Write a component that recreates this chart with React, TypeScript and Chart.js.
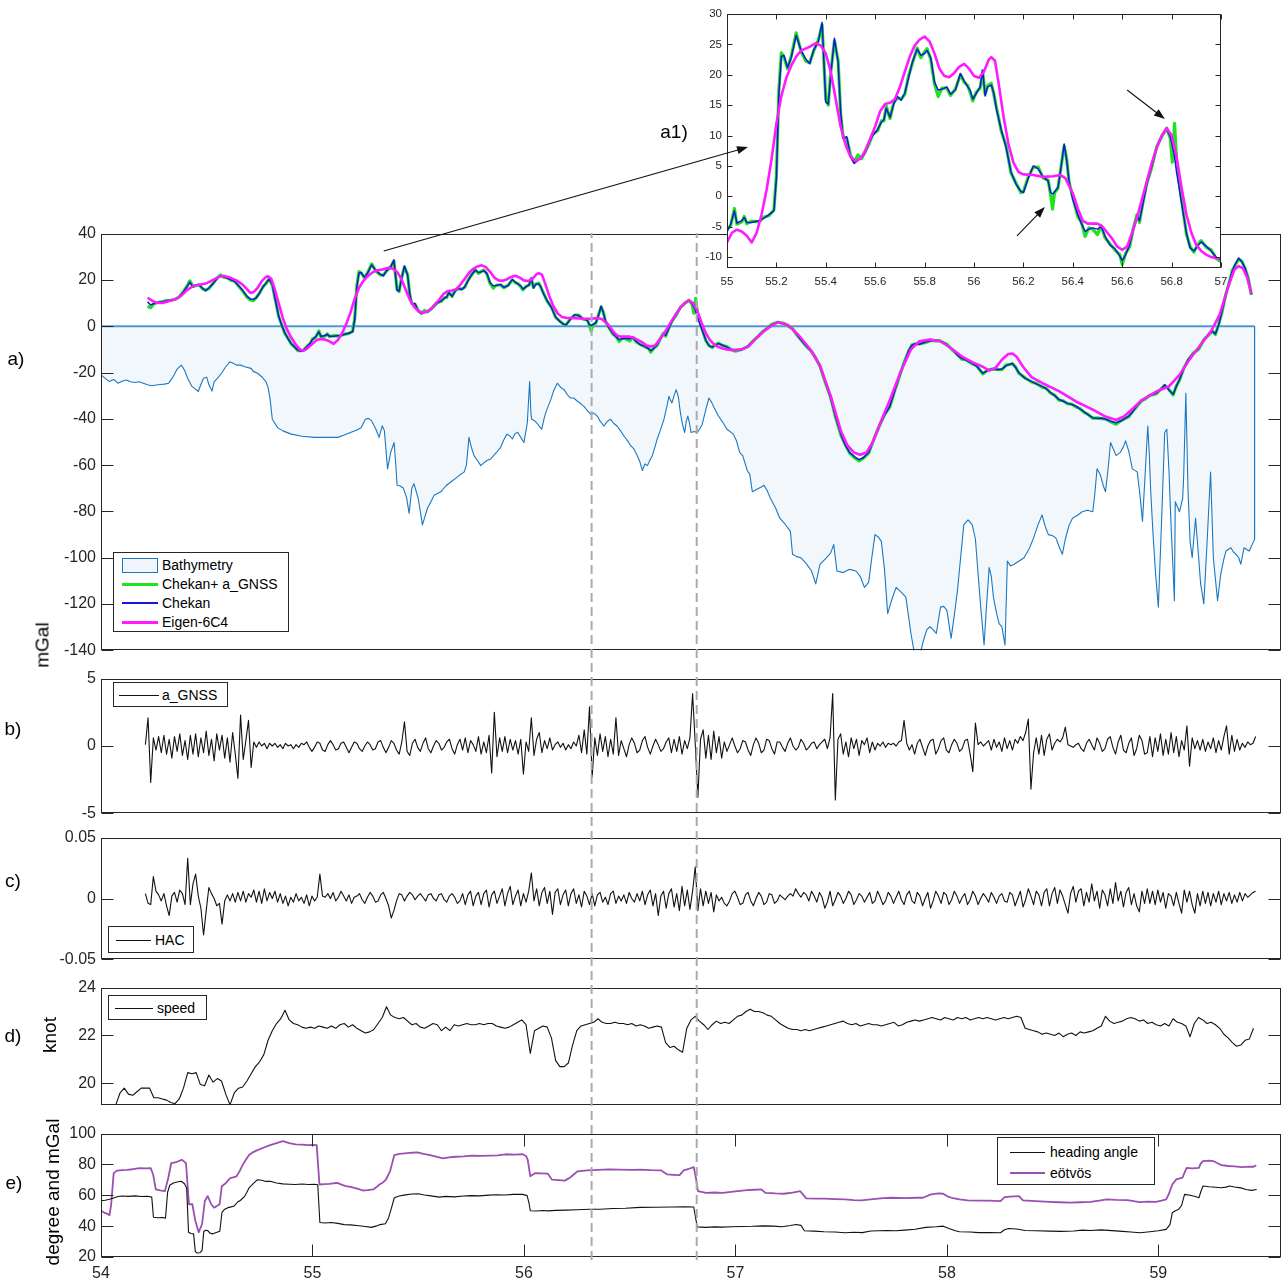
import React, { useEffect, useRef } from 'react';
import { Chart, registerables } from 'chart.js';

Chart.register(...registerables);

const FONT = '"Liberation Sans", Arial, Helvetica, sans-serif';
const INK = '#262626';

// ---------- page layout (pixels) ----------
const PAGE_W = 1282;
const PAGE_H = 1281;
const PLOT_LEFT = 101;
const PLOT_RIGHT = 1281;
const PAD = 12;
const X_AXIS_H = 26;
const PANEL_A = { top: 231, bottom: 653 };
const PANEL_B = { top: 676, bottom: 816 };
const PANEL_C = { top: 835, bottom: 962 };
const PANEL_D = { top: 985, bottom: 1108 };
const PANEL_E = { top: 1131, bottom: 1257 };
const INSET_CANVAS = { left: 680, top: 0, width: 602, height: 300 };
const INSET_PLOT = { left: 727, right: 1221, top: 14, bottom: 268 };
const MARKER_SPAN = { top: 233, bottom: 1260 };

// ---------- axes ----------
const X_MIN = 54;
const X_MAX = 59.58;
const X_TICKS = [54, 55, 56, 57, 58, 59];
const GRAVITY_TICKS = [40, 20, 0, -20, -40, -60, -80, -100, -120, -140];
const GNSS_TICKS = [5, 0, -5];
const HAC_TICKS = [0.05, 0, -0.05];
const SPEED_TICKS = [24, 22, 20];
const HEADING_TICKS = [100, 80, 60, 40, 20];
const INSET_X_TICKS = [55, 55.2, 55.4, 55.6, 55.8, 56, 56.2, 56.4, 56.6, 56.8, 57];
const INSET_Y_TICKS = [30, 25, 20, 15, 10, 5, 0, -5, -10];

// ---------- a) gravity anomaly along the track (mGal) ----------
const chekan: [number, number][] = [
  [54.22, 10.5], [54.235, 9.2], [54.25, 9.8], [54.27, 10.2], [54.29, 10.6], [54.31, 11.0], [54.33, 11.3], [54.35, 11.5],
  [54.37, 12.8], [54.39, 14.8], [54.41, 17.5], [54.42, 19.0], [54.435, 17.0], [54.45, 17.8], [54.465, 17.6], [54.48, 16.4],
  [54.495, 15.3], [54.51, 16.5], [54.53, 18.4], [54.55, 20.6], [54.565, 21.8], [54.58, 21.4], [54.6, 20.6], [54.615, 20.0],
  [54.63, 19.4], [54.65, 17.6], [54.67, 15.5], [54.69, 13.0], [54.705, 11.8], [54.72, 11.6], [54.735, 12.3], [54.75, 14.5],
  [54.765, 16.8], [54.78, 18.6], [54.795, 20.3], [54.81, 18.0], [54.825, 11.0], [54.84, 4.5], [54.855, 0.2], [54.87, -3.0],
  [54.885, -5.5], [54.9, -7.5], [54.915, -9.0], [54.93, -10.2], [54.945, -10.8], [54.96, -10.0], [54.975, -8.8], [54.99, -7.2],
  [55.0, -5.8], [55.015, -4.6], [55.03, -2.4], [55.04, -4.4], [55.06, -4.0], [55.07, -3.5], [55.08, -4.3], [55.1, -4.3],
  [55.13, -4.0], [55.15, -3.6], [55.17, -3.0], [55.19, -2.4], [55.2, 3.0], [55.21, 17.0], [55.22, 23.0], [55.23, 23.2],
  [55.245, 21.2], [55.26, 22.8], [55.28, 26.5], [55.3, 24.0], [55.32, 22.5], [55.335, 21.8], [55.35, 24.0], [55.37, 25.5],
  [55.385, 28.6], [55.4, 15.5], [55.41, 15.2], [55.42, 20.0], [55.435, 26.0], [55.45, 22.0], [55.46, 14.0], [55.47, 9.5],
  [55.485, 9.8], [55.5, 6.5], [55.515, 5.4], [55.53, 5.9], [55.545, 6.4], [55.56, 7.2], [55.575, 8.8], [55.59, 10.0],
  [55.61, 11.0], [55.625, 12.2], [55.635, 12.6], [55.645, 14.5], [55.66, 13.0], [55.675, 15.2], [55.69, 16.4], [55.705, 15.8],
  [55.72, 17.0], [55.735, 19.5], [55.75, 22.0], [55.77, 24.2], [55.785, 23.2], [55.8, 23.5], [55.81, 24.0], [55.825, 22.8],
  [55.84, 18.8], [55.855, 17.5], [55.87, 17.6], [55.89, 18.0], [55.905, 16.8], [55.925, 17.5], [55.945, 20.2], [55.96, 19.0],
  [55.975, 18.0], [55.985, 17.4], [55.995, 16.0], [56.01, 17.0], [56.025, 18.0], [56.035, 20.8], [56.045, 16.5], [56.055, 18.0],
  [56.07, 18.3], [56.08, 17.0], [56.09, 14.5], [56.11, 11.0], [56.13, 8.0], [56.15, 4.0], [56.17, 2.0], [56.19, 0.8],
  [56.2, 0.6], [56.22, 3.0], [56.24, 5.0], [56.26, 4.5], [56.28, 3.2], [56.3, 2.5], [56.31, 0.6], [56.32, 0.4],
  [56.34, 1.5], [56.35, 4.0], [56.365, 8.6], [56.375, 6.0], [56.385, 2.5], [56.4, -0.5], [56.42, -3.0], [56.435, -4.5],
  [56.45, -5.8], [56.465, -5.4], [56.48, -5.2], [56.5, -5.4], [56.515, -5.0], [56.53, -6.5], [56.55, -8.0], [56.57, -8.6],
  [56.59, -9.8], [56.6, -10.6], [56.615, -9.5], [56.63, -8.0], [56.645, -5.5], [56.66, -3.2], [56.67, -4.0], [56.685, -1.0],
  [56.7, 2.0], [56.72, 5.0], [56.74, 8.0], [56.76, 10.0], [56.78, 11.0], [56.795, 9.8], [56.81, 7.0], [56.82, 4.0],
  [56.84, -1.0], [56.86, -6.0], [56.875, -8.5], [56.89, -9.0], [56.905, -8.2], [56.92, -7.5], [56.94, -8.2], [56.96, -9.0],
  [56.98, -10.0], [57.0, -10.5], [57.03, -10.2], [57.06, -8.5], [57.09, -6.0], [57.11, -4.0], [57.13, -2.4], [57.15, -0.8],
  [57.17, 0.5], [57.2, 1.9], [57.23, 1.0], [57.25, 0.2], [57.27, -1.2], [57.29, -3.5], [57.31, -6.0], [57.335, -8.5],
  [57.36, -11.0], [57.38, -13.5], [57.4, -17.5], [57.425, -24.0], [57.45, -31.0], [57.475, -39.5], [57.5, -47.0], [57.52, -51.5],
  [57.54, -54.5], [57.565, -56.5], [57.585, -57.6], [57.605, -56.8], [57.63, -54.5], [57.655, -49.0], [57.68, -43.0], [57.705, -38.5],
  [57.73, -34.6], [57.75, -29.0], [57.77, -23.0], [57.795, -16.5], [57.82, -10.3], [57.835, -8.2], [57.85, -7.5], [57.87, -7.8],
  [57.9, -6.8], [57.925, -6.3], [57.95, -6.1], [57.965, -6.4], [57.98, -6.8], [58.0, -8.0], [58.03, -10.3], [58.05, -12.5],
  [58.07, -13.9], [58.09, -14.6], [58.12, -16.0], [58.14, -17.2], [58.17, -20.3], [58.195, -19.0], [58.22, -18.2], [58.24, -18.8],
  [58.26, -18.5], [58.28, -17.0], [58.31, -16.0], [58.325, -17.8], [58.34, -20.0], [58.37, -22.5], [58.4, -23.8], [58.425, -25.0],
  [58.45, -26.0], [58.47, -27.0], [58.49, -28.6], [58.51, -30.0], [58.53, -31.6], [58.55, -32.4], [58.57, -33.2], [58.59, -33.8],
  [58.61, -34.5], [58.63, -35.8], [58.65, -37.0], [58.67, -38.4], [58.69, -39.5], [58.71, -39.8], [58.73, -39.6], [58.75, -40.2],
  [58.775, -41.0], [58.8, -41.7], [58.83, -40.6], [58.86, -38.8], [58.88, -36.8], [58.9, -34.2], [58.92, -32.4], [58.94, -31.0],
  [58.96, -30.0], [58.99, -28.9], [59.01, -27.5], [59.03, -25.3], [59.05, -27.5], [59.07, -29.4], [59.085, -26.0], [59.1, -23.0],
  [59.12, -18.5], [59.14, -14.5], [59.165, -11.8], [59.19, -9.7], [59.215, -6.0], [59.24, -3.3], [59.255, -2.2], [59.27, -3.3],
  [59.285, 0.5], [59.3, 6.0], [59.32, 13.8], [59.335, 19.0], [59.35, 23.9], [59.365, 27.0], [59.38, 29.4], [59.395, 27.8],
  [59.41, 25.2], [59.425, 20.5], [59.44, 13.8],
];

const chekanGnss: [number, number][] = [
  [54.22, 8.6], [54.235, 8.0], [54.25, 9.6], [54.27, 10.3], [54.29, 10.5], [54.31, 11.1], [54.33, 11.2], [54.35, 11.6],
  [54.37, 12.6], [54.39, 15.0], [54.41, 17.8], [54.42, 19.6], [54.435, 17.2], [54.45, 17.6], [54.465, 17.9], [54.48, 16.2],
  [54.495, 15.6], [54.51, 16.3], [54.53, 18.6], [54.55, 20.9], [54.565, 22.2], [54.58, 21.2], [54.6, 20.8], [54.615, 19.8],
  [54.63, 19.6], [54.65, 17.4], [54.67, 15.2], [54.69, 12.6], [54.705, 11.4], [54.72, 11.0], [54.735, 12.5], [54.75, 14.3],
  [54.765, 17.0], [54.78, 18.4], [54.795, 20.6], [54.81, 17.8], [54.825, 11.3], [54.84, 4.2], [54.855, 0.5], [54.87, -3.2],
  [54.885, -5.3], [54.9, -7.8], [54.915, -8.8], [54.93, -10.5], [54.945, -10.6], [54.96, -10.3], [54.975, -8.6], [54.99, -7.4],
  [55.0, -5.5], [55.015, -4.8], [55.03, -2.0], [55.04, -4.6], [55.06, -4.2], [55.07, -3.3], [55.08, -4.5], [55.1, -4.1],
  [55.13, -4.2], [55.15, -3.4], [55.17, -3.2], [55.19, -2.2], [55.2, 3.4], [55.21, 17.5], [55.22, 23.6], [55.23, 23.0],
  [55.245, 21.0], [55.26, 23.0], [55.28, 26.9], [55.3, 23.8], [55.32, 22.2], [55.335, 22.0], [55.35, 23.8], [55.37, 25.7],
  [55.385, 28.2], [55.4, 15.9], [55.41, 15.0], [55.42, 20.4], [55.435, 25.6], [55.45, 22.3], [55.46, 13.6], [55.47, 9.8],
  [55.485, 9.5], [55.5, 6.8], [55.515, 5.6], [55.53, 6.8], [55.545, 6.2], [55.56, 7.4], [55.575, 8.6], [55.59, 10.2],
  [55.61, 10.8], [55.625, 12.4], [55.635, 12.4], [55.645, 14.8], [55.66, 12.8], [55.675, 15.4], [55.69, 16.2], [55.705, 16.0],
  [55.72, 16.8], [55.735, 19.8], [55.75, 21.8], [55.77, 24.4], [55.785, 22.8], [55.8, 23.8], [55.81, 24.3], [55.825, 22.5],
  [55.84, 18.5], [55.855, 16.4], [55.87, 17.8], [55.89, 17.8], [55.905, 16.6], [55.925, 17.7], [55.945, 20.0], [55.96, 18.8],
  [55.975, 18.2], [55.985, 17.0], [55.995, 15.7], [56.01, 17.2], [56.025, 17.8], [56.035, 20.5], [56.045, 16.8], [56.055, 18.2],
  [56.07, 18.6], [56.08, 16.8], [56.09, 14.8], [56.11, 10.8], [56.13, 8.3], [56.15, 3.8], [56.17, 2.2], [56.19, 0.6],
  [56.2, 0.8], [56.22, 3.2], [56.24, 4.8], [56.26, 4.8], [56.28, 3.0], [56.3, 2.7], [56.31, 0.3], [56.318, -2.1],
  [56.326, 0.6], [56.34, 1.3], [56.35, 4.2], [56.365, 8.3], [56.375, 6.2], [56.385, 2.3], [56.4, -0.2], [56.42, -3.3],
  [56.435, -4.3], [56.45, -6.6], [56.465, -5.2], [56.48, -5.4], [56.5, -6.3], [56.515, -4.8], [56.53, -6.8], [56.55, -7.8],
  [56.57, -8.8], [56.59, -9.6], [56.6, -11.2], [56.615, -9.3], [56.63, -8.3], [56.645, -5.3], [56.66, -3.0], [56.67, -4.3],
  [56.685, -0.8], [56.7, 2.2], [56.72, 4.8], [56.74, 8.2], [56.76, 9.8], [56.78, 11.2], [56.795, 9.5], [56.803, 5.6],
  [56.812, 12.0], [56.82, 6.0], [56.84, -0.5], [56.86, -6.2], [56.875, -8.3], [56.89, -9.2], [56.905, -8.0], [56.92, -7.3],
  [56.94, -8.4], [56.96, -8.8], [56.98, -10.2], [57.0, -10.8], [57.03, -10.0], [57.06, -8.7], [57.09, -5.8], [57.11, -4.2],
  [57.13, -2.2], [57.15, -1.0], [57.17, 0.7], [57.2, 1.7], [57.23, 1.2], [57.25, 0.0], [57.27, -1.0], [57.29, -3.7],
  [57.31, -5.8], [57.335, -8.7], [57.36, -10.8], [57.38, -13.8], [57.4, -17.2], [57.425, -24.3], [57.45, -30.6], [57.475, -39.8],
  [57.5, -47.3], [57.52, -51.2], [57.54, -54.8], [57.565, -56.9], [57.585, -58.2], [57.605, -57.0], [57.63, -54.8], [57.655, -48.7],
  [57.68, -43.3], [57.705, -38.2], [57.73, -34.9], [57.75, -28.7], [57.77, -23.3], [57.795, -16.2], [57.82, -10.6], [57.835, -8.0],
  [57.85, -7.7], [57.87, -7.6], [57.9, -7.0], [57.925, -6.1], [57.95, -6.3], [57.965, -6.2], [57.98, -7.0], [58.0, -7.8],
  [58.03, -10.6], [58.05, -12.3], [58.07, -14.2], [58.09, -14.4], [58.12, -16.3], [58.14, -17.0], [58.17, -20.6], [58.195, -18.8],
  [58.22, -18.5], [58.24, -18.6], [58.26, -18.8], [58.28, -16.8], [58.31, -16.3], [58.325, -17.6], [58.34, -20.3], [58.37, -22.3],
  [58.4, -24.1], [58.425, -24.8], [58.45, -26.3], [58.47, -26.8], [58.49, -28.9], [58.51, -29.8], [58.53, -31.9], [58.55, -32.2],
  [58.57, -33.5], [58.59, -33.6], [58.61, -34.8], [58.63, -35.6], [58.65, -37.3], [58.67, -38.2], [58.69, -39.8], [58.71, -39.6],
  [58.73, -39.9], [58.75, -40.0], [58.775, -41.3], [58.8, -42.3], [58.83, -40.4], [58.86, -39.1], [58.88, -36.6], [58.9, -34.5],
  [58.92, -32.2], [58.94, -31.3], [58.96, -29.8], [58.99, -29.2], [59.01, -27.3], [59.03, -25.6], [59.05, -27.3], [59.07, -29.7],
  [59.085, -25.8], [59.1, -23.3], [59.12, -18.2], [59.14, -14.8], [59.165, -11.6], [59.19, -10.0], [59.215, -5.8], [59.24, -3.6],
  [59.255, -2.0], [59.27, -3.6], [59.285, 0.8], [59.3, 5.7], [59.32, 14.1], [59.335, 18.7], [59.35, 24.2], [59.365, 26.7],
  [59.38, 29.0], [59.395, 28.0], [59.41, 24.9], [59.425, 20.8], [59.44, 13.5],
];

const eigen6c4: [number, number][] = [
  [54.22, 12.3], [54.24, 11.2], [54.26, 10.2], [54.29, 10.0], [54.32, 10.8], [54.35, 11.6], [54.38, 13.2], [54.41, 15.8],
  [54.44, 17.6], [54.47, 18.0], [54.5, 18.6], [54.53, 20.0], [54.56, 21.4], [54.58, 21.7], [54.61, 21.0], [54.64, 19.8],
  [54.67, 18.0], [54.69, 16.0], [54.705, 14.5], [54.72, 14.6], [54.74, 16.5], [54.76, 19.5], [54.78, 21.3], [54.79, 21.6],
  [54.805, 20.5], [54.82, 16.5], [54.84, 10.0], [54.86, 3.5], [54.88, -1.5], [54.9, -5.0], [54.92, -7.8], [54.94, -10.0],
  [54.955, -10.6], [54.97, -10.0], [54.985, -8.8], [55.0, -7.6], [55.02, -6.0], [55.04, -5.5], [55.06, -5.8], [55.08, -6.5],
  [55.1, -7.6], [55.12, -6.0], [55.14, -3.0], [55.16, 1.0], [55.18, 6.0], [55.2, 12.0], [55.22, 16.5], [55.24, 19.5],
  [55.26, 21.5], [55.28, 23.0], [55.3, 24.0], [55.33, 24.5], [55.36, 25.2], [55.38, 24.8], [55.4, 23.5], [55.42, 20.5],
  [55.44, 16.0], [55.46, 11.5], [55.48, 8.5], [55.5, 6.5], [55.52, 5.8], [55.54, 6.2], [55.56, 7.5], [55.58, 9.5],
  [55.6, 11.5], [55.62, 14.0], [55.64, 15.2], [55.66, 15.4], [55.68, 16.0], [55.7, 18.0], [55.72, 20.5], [55.74, 23.0],
  [55.76, 24.8], [55.78, 25.8], [55.8, 26.3], [55.82, 25.5], [55.84, 23.5], [55.86, 21.0], [55.88, 19.8], [55.9, 19.6],
  [55.92, 20.3], [55.94, 21.3], [55.96, 21.8], [55.98, 21.0], [56.0, 19.8], [56.02, 19.5], [56.04, 20.5], [56.06, 22.5],
  [56.07, 22.9], [56.085, 22.3], [56.1, 18.5], [56.12, 13.0], [56.14, 8.5], [56.16, 5.5], [56.18, 4.0], [56.2, 3.6],
  [56.24, 3.5], [56.28, 3.2], [56.32, 3.3], [56.35, 3.5], [56.37, 3.0], [56.4, 0.5], [56.42, -2.0], [56.44, -4.0],
  [56.46, -4.5], [56.5, -4.5], [56.52, -5.0], [56.54, -6.0], [56.56, -7.0], [56.58, -8.3], [56.6, -8.8], [56.62, -8.3],
  [56.64, -6.0], [56.66, -3.5], [56.68, -0.5], [56.7, 2.5], [56.72, 5.5], [56.74, 8.0], [56.76, 10.0], [56.78, 11.2],
  [56.8, 10.0], [56.82, 6.5], [56.84, 1.5], [56.86, -3.0], [56.88, -6.0], [56.9, -8.0], [56.92, -9.0], [56.94, -9.6],
  [56.96, -10.0], [56.98, -10.2], [57.0, -10.2], [57.03, -10.0], [57.06, -8.8], [57.1, -5.0], [57.15, -1.0], [57.2, 1.7],
  [57.25, 0.5], [57.3, -4.0], [57.35, -9.5], [57.4, -17.0], [57.45, -30.0], [57.5, -45.5], [57.53, -51.5], [57.56, -54.5],
  [57.59, -55.5], [57.62, -54.5], [57.65, -50.0], [57.68, -43.0], [57.73, -32.0], [57.78, -20.0], [57.83, -10.0], [57.87, -6.5],
  [57.92, -5.8], [57.97, -6.5], [58.02, -9.5], [58.07, -13.0], [58.12, -15.5], [58.17, -17.5], [58.2, -19.2], [58.23, -18.0],
  [58.26, -14.5], [58.29, -12.0], [58.31, -11.8], [58.33, -13.2], [58.36, -17.5], [58.4, -22.0], [58.45, -24.5], [58.53, -28.0],
  [58.61, -32.5], [58.69, -36.0], [58.75, -39.0], [58.8, -40.5], [58.84, -38.8], [58.88, -35.5], [58.92, -32.0], [58.99, -28.2],
  [59.05, -26.0], [59.1, -21.0], [59.15, -14.0], [59.2, -8.0], [59.25, -2.0], [59.29, 5.0], [59.33, 17.0], [59.36, 24.5],
  [59.38, 26.0], [59.4, 25.0], [59.42, 21.0], [59.44, 14.0],
];

const bathymetry: [number, number][] = [
  [54.0, -21.0], [54.02, -22.5], [54.04, -23.9], [54.06, -23.0], [54.08, -24.6], [54.1, -23.8], [54.12, -23.2], [54.14, -24.0],
  [54.16, -24.3], [54.18, -24.0], [54.2, -24.6], [54.22, -25.3], [54.24, -25.7], [54.26, -25.4], [54.28, -25.2], [54.3, -25.0],
  [54.32, -24.6], [54.34, -22.0], [54.36, -18.5], [54.38, -16.8], [54.395, -19.0], [54.41, -22.5], [54.43, -26.0], [54.46, -28.2],
  [54.475, -24.5], [54.485, -22.5], [54.5, -22.0], [54.51, -25.2], [54.525, -28.0], [54.535, -24.0], [54.55, -22.5], [54.57, -20.3],
  [54.59, -17.5], [54.61, -15.4], [54.625, -16.0], [54.64, -16.8], [54.66, -16.8], [54.68, -17.5], [54.7, -18.0], [54.71, -18.2],
  [54.72, -19.5], [54.74, -20.3], [54.76, -21.8], [54.78, -24.0], [54.79, -26.5], [54.8, -31.7], [54.81, -40.2], [54.835, -43.8],
  [54.86, -45.2], [54.9, -46.6], [54.95, -47.5], [55.01, -48.0], [55.06, -48.0], [55.12, -48.0], [55.15, -47.0], [55.18, -45.9],
  [55.21, -44.8], [55.23, -43.8], [55.25, -40.2], [55.265, -39.8], [55.28, -40.9], [55.3, -44.5], [55.315, -48.0], [55.33, -43.0],
  [55.34, -45.1], [55.355, -61.6], [55.37, -54.5], [55.386, -50.2], [55.394, -59.8], [55.4, -68.7], [55.415, -69.0], [55.43, -70.0],
  [55.445, -74.0], [55.457, -80.8], [55.47, -70.0], [55.48, -68.0], [55.5, -74.4], [55.52, -85.8], [55.544, -78.6], [55.56, -75.8],
  [55.575, -73.0], [55.607, -71.5], [55.63, -69.0], [55.654, -67.3], [55.68, -65.5], [55.7, -64.0], [55.717, -63.0], [55.728, -60.0],
  [55.74, -48.0], [55.752, -52.5], [55.764, -55.9], [55.78, -58.0], [55.796, -60.2], [55.81, -59.0], [55.825, -58.0], [55.843, -57.3],
  [55.86, -55.5], [55.875, -54.0], [55.89, -52.3], [55.905, -49.0], [55.92, -46.6], [55.935, -47.5], [55.945, -48.7], [55.957, -46.5],
  [55.97, -45.8], [55.985, -48.0], [56.0, -50.2], [56.01, -45.0], [56.016, -41.7], [56.027, -23.9], [56.033, -38.0], [56.037, -40.2],
  [56.05, -40.8], [56.06, -41.7], [56.075, -43.5], [56.084, -44.5], [56.095, -40.0], [56.103, -37.4], [56.115, -34.5], [56.127, -31.7],
  [56.14, -28.0], [56.158, -24.6], [56.175, -26.5], [56.19, -27.4], [56.205, -29.5], [56.22, -31.0], [56.235, -31.0], [56.253, -32.4],
  [56.27, -33.5], [56.284, -34.6], [56.3, -36.5], [56.316, -38.1], [56.33, -37.5], [56.347, -38.8], [56.36, -41.0], [56.378, -43.1],
  [56.395, -41.0], [56.41, -40.2], [56.425, -42.0], [56.44, -43.1], [56.455, -45.0], [56.473, -47.4], [56.49, -49.5], [56.505, -51.6],
  [56.52, -53.0], [56.536, -55.9], [56.548, -58.5], [56.56, -62.3], [56.572, -59.5], [56.584, -60.2], [56.595, -58.0], [56.607, -55.9],
  [56.62, -52.0], [56.63, -48.8], [56.645, -45.0], [56.662, -40.2], [56.675, -35.0], [56.686, -30.3], [56.693, -32.0], [56.7, -33.1],
  [56.71, -30.0], [56.72, -27.4], [56.73, -30.5], [56.74, -37.4], [56.75, -42.5], [56.76, -45.9], [56.768, -41.0], [56.775, -38.8],
  [56.783, -42.0], [56.79, -45.9], [56.805, -45.5], [56.82, -45.9], [56.83, -44.5], [56.843, -42.4], [56.86, -36.0], [56.875, -31.0],
  [56.888, -33.0], [56.9, -35.3], [56.92, -38.8], [56.94, -41.5], [56.96, -44.5], [56.99, -46.6], [57.005, -49.5], [57.02, -54.5],
  [57.035, -56.0], [57.056, -62.3], [57.068, -64.0], [57.08, -71.5], [57.1, -70.5], [57.12, -69.5], [57.135, -68.7], [57.15, -71.0],
  [57.166, -74.4], [57.19, -78.5], [57.21, -82.9], [57.235, -85.5], [57.26, -88.6], [57.27, -98.5], [57.29, -99.5], [57.31, -100.0],
  [57.335, -102.5], [57.36, -105.7], [57.38, -111.3], [57.4, -102.8], [57.43, -100.0], [57.45, -98.0], [57.465, -94.3], [57.48, -105.7],
  [57.51, -106.4], [57.54, -105.0], [57.57, -105.7], [57.59, -108.0], [57.61, -112.8], [57.63, -110.6], [57.645, -100.0], [57.66, -90.0],
  [57.675, -91.0], [57.69, -92.9], [57.705, -105.0], [57.72, -124.1], [57.74, -118.0], [57.76, -112.8], [57.78, -114.5], [57.806, -117.0],
  [57.83, -132.7], [57.845, -140.5], [57.86, -144.0], [57.875, -141.0], [57.89, -135.5], [57.905, -131.0], [57.92, -129.8], [57.935, -131.0],
  [57.95, -132.7], [57.97, -121.3], [57.985, -121.0], [58.0, -122.7], [58.02, -134.8], [58.035, -125.0], [58.05, -114.2], [58.065, -100.0],
  [58.08, -85.8], [58.1, -83.6], [58.12, -85.8], [58.135, -92.0], [58.144, -102.8], [58.16, -121.3], [58.176, -137.7], [58.188, -120.0],
  [58.2, -104.2], [58.21, -108.0], [58.22, -117.0], [58.235, -124.0], [58.247, -128.4], [58.26, -129.8], [58.275, -137.7], [58.286, -101.4],
  [58.3, -103.5], [58.318, -102.8], [58.34, -101.5], [58.365, -100.0], [58.39, -96.0], [58.41, -91.4], [58.43, -86.0], [58.45, -81.5],
  [58.465, -86.5], [58.48, -90.0], [58.5, -90.5], [58.515, -91.4], [58.53, -95.0], [58.546, -98.5], [58.56, -92.0], [58.578, -86.0],
  [58.594, -82.9], [58.62, -81.5], [58.64, -80.1], [58.665, -79.5], [58.69, -80.1], [58.7, -72.0], [58.71, -61.6], [58.725, -64.0],
  [58.74, -69.0], [58.75, -71.5], [58.762, -62.0], [58.774, -50.2], [58.787, -53.0], [58.8, -55.9], [58.82, -54.5], [58.835, -52.0],
  [58.845, -49.5], [58.86, -54.0], [58.877, -61.6], [58.9, -62.9], [58.912, -72.0], [58.925, -84.3], [58.94, -60.0], [58.95, -43.1],
  [58.957, -55.0], [58.964, -71.5], [58.975, -90.0], [58.987, -107.1], [59.0, -121.3], [59.015, -85.0], [59.03, -45.9], [59.04, -44.5],
  [59.05, -62.0], [59.06, -85.8], [59.068, -102.0], [59.076, -118.5], [59.08, -75.8], [59.09, -78.0], [59.1, -80.1], [59.108, -77.0],
  [59.115, -74.4], [59.12, -64.4], [59.13, -28.9], [59.14, -70.0], [59.15, -92.9], [59.16, -100.0], [59.176, -82.9], [59.188, -97.0],
  [59.2, -111.3], [59.215, -119.9], [59.23, -94.3], [59.247, -63.0], [59.26, -100.0], [59.28, -118.5], [59.295, -107.1], [59.31, -100.5],
  [59.32, -97.1], [59.343, -95.7], [59.355, -97.5], [59.367, -98.5], [59.38, -100.0], [59.39, -102.8], [59.405, -95.7], [59.42, -96.5],
  [59.43, -97.1], [59.445, -94.0], [59.455, -92.1],
];

// ---------- b) GNSS vertical acceleration, sampled every 0.0125 ----------
const A_GNSS_START = 54.21;
const A_GNSS_STEP = 0.0125;
const aGnss: number[] = [
  0.1, 2.1, -2.7, 0.6, -0.3, 0.7, -0.5, 0.8, -0.6, 0.5, -0.9, 0.7, -0.4, 0.9, -0.7, 0.4, -1.0, 0.8, -0.6, 0.9,
  -0.8, 0.6, -0.5, 1.1, -0.7, 0.5, -1.1, 0.9, -0.3, 0.8, -0.9, 0.6, -1.2, 1.0, -0.6, -2.4, 2.3, -1.0, 0.4, 1.9,
  -1.6, 0.3, -0.1, 0.3, 0.0, 0.2, -0.2, 0.2, 0.0, 0.2, -0.1, 0.1, -0.2, 0.2, 0.0, 0.1, -0.2, 0.1, -0.1, 0.2,
  0.1, 0.3, -0.1, -0.4, -0.1, 0.3, 0.2, -0.3, -0.4, 0.1, 0.4, 0.1, -0.3, -0.2, 0.2, 0.3, -0.1, -0.5, -0.1, 0.3,
  0.2, -0.2, -0.4, 0.0, 0.3, 0.1, -0.3, -0.2, 0.3, 0.4, -0.1, -0.5, -0.1, 0.4, 0.2, -0.3, -0.6, 0.3, 1.8, -0.4,
  -0.7, 0.2, 0.5, -0.1, -0.4, 0.2, 0.6, -0.2, -0.5, 0.0, 0.4, 0.2, -0.3, -0.1, 0.3, 0.5, -0.2, -0.6, 0.1, 0.5,
  -0.3, 0.6, -0.5, 0.4, 0.1, -0.4, 0.7, -0.6, 0.3, -0.5, 0.8, -2.0, 2.5, -0.8, 0.6, -0.4, 0.7, -0.5, 0.5, -0.3,
  0.4, -0.6, 0.5, -2.1, 0.3, -0.4, 2.1, -0.7, 0.5, 1.0, -0.5, 0.4, -0.2, 0.6, -0.3, 0.1, 0.3, -0.1, 0.2, -0.3,
  0.1, -0.2, 0.3, 0.0, 0.8, -0.5, 1.2, -0.6, 2.9, -2.3, 0.6, -0.7, 0.9, -0.4, 0.7, -0.8, 0.5, -0.6, 2.1, -0.7,
  0.4, -0.2, -0.8, 0.1, 0.6, 0.2, -0.5, -0.3, 0.4, 0.7, -0.1, -0.6, 0.0, 0.5, 0.1, -0.4, -0.2, 0.3, 0.6, -0.5,
  0.5, -0.4, 0.7, -0.6, 0.4, -0.2, 0.6, 3.9, 0.2, -3.8, 0.5, 1.2, -0.9, 0.8, -1.0, 1.1, -0.5, 0.7, -0.9, 0.3,
  -0.4, 0.1, 0.6, 0.0, -0.5, -0.2, 0.4, 0.3, -0.3, -0.7, 0.1, 0.6, 0.2, -0.5, -0.3, 0.5, 0.4, -0.2, -0.6, 0.3,
  0.3, -0.1, -0.4, 0.2, 0.6, 0.0, -0.3, -0.1, 0.5, 0.2, -0.3, -0.1, 0.2, 0.3, -0.2, 0.1, 0.3, 0.5, -0.2, 0.6,
  3.9, -4.0, 0.5, 0.9, -0.6, 0.3, -0.8, 0.6, -0.2, 0.5, -0.7, 0.4, 0.1, 0.6, -0.5, 0.3, -0.3, 0.2, 0.0, 0.3,
  -0.1, 0.2, 0.1, 0.2, 0.0, 0.3, 0.4, 1.9, 0.2, -0.3, 0.1, -0.6, 0.2, 0.5, -0.1, -0.7, 0.0, 0.4, 0.5, -0.6,
  -0.2, 0.4, 0.6, -0.3, -0.5, 0.1, 0.5, 0.2, -0.4, -0.2, 0.4, 0.5, -0.6, -1.9, 1.7, 0.1, 0.3, 0.0, 0.2, 0.4,
  -0.3, 0.5, -0.1, 0.3, -0.4, 0.6, -0.2, 0.4, -0.3, 0.5, 0.2, 0.7, 0.4, 1.0, 2.0, -3.2, -0.5, 0.6, -0.6, 0.8,
  -0.7, 0.5, 0.9, -0.3, 0.2, 0.5, 0.3, 0.6, 1.4, 0.1, 0.0, -0.1, 0.1, 0.2, -0.2, -0.4, 0.2, 0.5, 0.1, -0.3,
  0.6, 0.2, -0.4, -0.2, 0.5, 0.7, -0.1, -0.6, 0.3, 0.8, -0.3, -0.5, 0.2, 0.6, -0.7, -0.2, 0.8, 0.4, -0.6, -0.5,
  0.7, -0.8, 0.6, -0.4, 0.9, -0.7, 0.5, -0.6, 1.0, -0.5, 0.7, -0.8, 0.4, -0.3, 1.5, -1.5, 0.6, -0.2, 0.4, -0.3,
  0.5, -0.4, 0.3, -0.2, 0.6, -0.5, 0.4, -0.3, 0.7, 1.5, -0.6, 0.8, -0.4, 0.5, -0.3, 0.2, -0.1, 0.3, 0.1, 0.2, 0.7,
];

// ---------- c) horizontal acceleration correction, sampled every 0.0125 ----------
const HAC_START = 54.21;
const HAC_STEP = 0.0125;
const hac: number[] = [
  0.004, -0.004, -0.005, 0.018, 0.006, 0.003, -0.002, 0.004, -0.006, -0.014, 0.002, 0.005, -0.003, 0.007, 0.004, -0.005, 0.033, -0.005, 0.012, 0.02,
  0.002, -0.008, -0.03, -0.01, 0.009, 0.004, 0.0, -0.006, -0.004, -0.021, -0.002, 0.003, -0.002, 0.004, -0.003, 0.005, -0.002, 0.006, -0.003, 0.004,
  0.001, 0.007, -0.003, 0.006, -0.004, 0.008, -0.002, 0.005, 0.0, 0.006, -0.003, 0.004, -0.004, 0.002, -0.006, 0.001, -0.003, 0.004, -0.002, 0.001,
  -0.004, 0.003, -0.006, 0.002, -0.002, 0.001, 0.02, 0.002, 0.001, 0.004, 0.0, 0.005, -0.002, 0.001, 0.006, 0.002, -0.002, 0.003, -0.004, 0.001,
  0.002, 0.004, -0.001, -0.004, 0.001, 0.005, 0.002, -0.003, -0.002, 0.003, 0.005, 0.0, -0.006, -0.016, -0.01, -0.002, 0.004, 0.003, -0.002, 0.002,
  0.005, 0.003, -0.001, 0.002, 0.004, 0.001, -0.002, 0.003, 0.004, 0.0, -0.002, 0.003, 0.004, -0.001, -0.003, 0.002, 0.004, 0.001, -0.004, -0.002,
  0.004, -0.005, 0.003, 0.006, -0.006, 0.002, 0.005, -0.005, 0.004, 0.007, -0.007, 0.003, 0.006, -0.004, 0.002, 0.008, -0.006, 0.004, 0.01, -0.005,
  0.002, 0.007, -0.006, 0.004, -0.003, 0.006, 0.021, -0.002, 0.008, -0.006, 0.005, 0.009, -0.004, 0.006, -0.013, 0.005, 0.008, -0.005, 0.003, 0.007,
  -0.006, 0.004, 0.008, -0.004, 0.003, -0.007, 0.006, 0.002, -0.005, 0.004, -0.006, 0.003, 0.005, -0.003, 0.001, -0.005, 0.004, 0.006, -0.004, 0.002,
  -0.002, 0.003, -0.004, 0.005, 0.0, -0.003, 0.004, -0.002, 0.006, -0.005, 0.003, 0.007, -0.006, 0.004, -0.014, 0.002, 0.006, -0.008, 0.004, 0.008,
  -0.007, 0.004, -0.01, 0.01, -0.006, 0.007, -0.009, 0.006, 0.026, -0.01, 0.008, -0.006, 0.006, -0.004, 0.005, -0.011, 0.003, -0.002, 0.001, -0.004,
  -0.006, -0.002, 0.004, 0.006, 0.001, -0.005, -0.004, 0.003, 0.005, -0.002, -0.006, 0.0, 0.005, 0.002, -0.005, -0.003, 0.004, 0.003, -0.004, -0.002,
  0.003, 0.001, -0.001, 0.002, 0.004, 0.002, 0.008, 0.004, 0.001, 0.005, 0.003, -0.002, 0.006, 0.002, -0.003, 0.005, 0.001, -0.008, -0.003, 0.006,
  -0.006, -0.001, 0.005, 0.002, -0.004, 0.0, 0.006, 0.003, -0.005, -0.001, 0.004, 0.002, -0.003, 0.001, 0.005, -0.004, -0.002, 0.006, 0.001, -0.005,
  -0.002, 0.005, 0.002, -0.004, 0.001, 0.006, -0.001, -0.005, 0.003, 0.006, -0.002, -0.004, 0.005, 0.002, -0.006, 0.0, 0.005, -0.008, -0.002, 0.006,
  0.002, -0.004, 0.005, 0.003, -0.005, -0.001, 0.006, 0.002, -0.004, 0.001, 0.004, -0.005, -0.001, 0.006, 0.002, -0.005, 0.0, 0.004, 0.001, -0.003,
  0.005, 0.001, -0.004, 0.002, 0.004, -0.002, -0.003, 0.005, 0.003, -0.006, 0.0, 0.006, -0.007, -0.001, 0.008, 0.002, -0.005, 0.006, 0.003, -0.006,
  0.005, 0.008, -0.006, 0.004, 0.009, -0.004, 0.007, 0.002, -0.005, -0.012, 0.004, 0.01, -0.003, 0.006, 0.008, -0.006, 0.005, -0.003, 0.012, -0.002,
  0.006, -0.008, 0.007, 0.003, -0.006, 0.008, -0.004, 0.013, -0.002, 0.006, -0.007, 0.005, 0.009, -0.005, 0.004, -0.006, -0.011, 0.006, -0.004, 0.008,
  -0.004, 0.006, -0.005, 0.007, -0.003, 0.005, -0.008, 0.004, 0.002, -0.006, 0.005, -0.004, -0.012, 0.007, -0.003, 0.006, -0.005, -0.012, 0.004, -0.006,
  0.006, -0.004, 0.005, -0.006, 0.004, -0.003, 0.006, -0.005, 0.004, -0.002, 0.005, -0.004, 0.003, -0.003, 0.005, -0.002, 0.004, 0.001, 0.003, 0.005, 0.006,
];

// ---------- d) ship speed (knot), sampled every 0.02 ----------
const SPEED_START = 54.07;
const SPEED_STEP = 0.02;
const speed: number[] = [
  19.1, 19.6, 19.8, 19.55, 19.5, 19.65, 19.8, 19.8, 19.8, 19.4,
  19.4, 19.35, 19.3, 19.2, 19.15, 19.35, 19.8, 20.45, 20.4, 20.45,
  19.95, 19.9, 20.35, 20.05, 20.2, 20.1, 19.55, 19.1, 19.6, 19.8,
  19.85, 20.1, 20.4, 20.7, 20.9, 21.2, 21.8, 22.2, 22.5, 22.7,
  23.05, 22.65, 22.5, 22.45, 22.35, 22.3, 22.35, 22.3, 22.4, 22.35,
  22.3, 22.4, 22.3, 22.45, 22.5, 22.35, 22.45, 22.3, 22.2, 22.1,
  22.15, 22.25, 22.5, 22.75, 23.2, 22.85, 22.75, 22.7, 22.75, 22.6,
  22.45, 22.5, 22.35, 22.3, 22.4, 22.5, 22.45, 22.2, 22.35, 22.2,
  22.45, 22.4, 22.45, 22.5, 22.45, 22.45, 22.5, 22.45, 22.5, 22.5,
  22.4, 22.35, 22.3, 22.35, 22.45, 22.55, 22.65, 22.45, 21.25, 22.2,
  22.3, 22.4, 22.35, 21.9, 20.95, 20.7, 20.7, 20.85, 21.6, 22.2,
  22.4, 22.45, 22.5, 22.55, 22.7, 22.55, 22.5, 22.5, 22.55, 22.5,
  22.5, 22.45, 22.5, 22.4, 22.45, 22.4, 22.3, 22.35, 22.4, 22.35,
  21.7, 21.5, 21.55, 21.4, 21.3, 22.3, 22.65, 22.8, 22.6, 22.45,
  22.25, 22.45, 22.6, 22.5, 22.55, 22.5, 22.65, 22.8, 22.85, 23.0,
  23.1, 23.0, 23.0, 22.95, 22.85, 22.8, 22.65, 22.5, 22.4, 22.3,
  22.25, 22.25, 22.2, 22.25, 22.2, 22.25, 22.3, 22.35, 22.4, 22.45,
  22.5, 22.55, 22.6, 22.5, 22.45, 22.5, 22.4, 22.45, 22.5, 22.45,
  22.45, 22.4, 22.45, 22.5, 22.55, 22.4, 22.45, 22.55, 22.6, 22.65,
  22.6, 22.65, 22.7, 22.75, 22.7, 22.65, 22.75, 22.7, 22.65, 22.75,
  22.7, 22.75, 22.65, 22.7, 22.75, 22.7, 22.75, 22.7, 22.65, 22.7,
  22.75, 22.7, 22.75, 22.8, 22.75, 22.3, 22.25, 22.2, 22.15, 22.05,
  22.1, 22.05, 22.0, 22.1, 21.95, 22.05, 22.1, 22.0, 22.15, 22.1,
  22.15, 22.2, 22.3, 22.4, 22.8, 22.6, 22.5, 22.55, 22.6, 22.7,
  22.75, 22.7, 22.6, 22.65, 22.5, 22.55, 22.45, 22.4, 22.5, 22.4,
  22.7, 22.55, 22.5, 22.4, 21.95, 22.5, 22.75, 22.65, 22.5, 22.55,
  22.45, 22.3, 22.05, 21.9, 21.7, 21.55, 21.6, 21.8, 21.85, 22.3,
];

// ---------- e) heading angle (degree) and Eötvös correction (mGal) ----------
const heading: [number, number][] = [
  [54.0, 56.5], [54.02, 56.8], [54.04, 57.4], [54.06, 58.3], [54.08, 59.2], [54.1, 59.5], [54.13, 59.3], [54.16, 59.6],
  [54.19, 59.2], [54.22, 59.4], [54.24, 58.8], [54.248, 45.8], [54.27, 45.4], [54.29, 45.6], [54.305, 45.2], [54.315, 62.0],
  [54.325, 66.5], [54.342, 68.0], [54.36, 68.6], [54.38, 69.1], [54.395, 67.5], [54.405, 64.8], [54.414, 36.0], [54.425, 35.2],
  [54.438, 35.0], [54.446, 23.5], [54.455, 22.6], [54.468, 22.8], [54.478, 24.3], [54.486, 36.5], [54.495, 37.3], [54.505, 37.1],
  [54.515, 35.5], [54.53, 35.0], [54.548, 36.0], [54.562, 36.7], [54.572, 49.0], [54.585, 51.0], [54.6, 52.0], [54.615, 52.5],
  [54.63, 53.1], [54.645, 55.5], [54.66, 56.8], [54.68, 59.5], [54.69, 62.0], [54.7, 64.8], [54.72, 67.5], [54.74, 70.1],
  [54.76, 69.8], [54.78, 69.0], [54.8, 69.1], [54.83, 68.0], [54.86, 67.4], [54.89, 67.2], [54.92, 67.0], [54.95, 67.3],
  [54.98, 67.0], [55.01, 67.2], [55.025, 66.8], [55.035, 42.4], [55.06, 42.0], [55.09, 42.4], [55.12, 41.8], [55.15, 41.0],
  [55.18, 40.8], [55.22, 40.3], [55.25, 39.8], [55.278, 39.2], [55.3, 40.0], [55.32, 41.0], [55.345, 41.6], [55.36, 45.5],
  [55.372, 51.0], [55.387, 58.4], [55.41, 59.5], [55.44, 60.3], [55.47, 60.8], [55.5, 61.0], [55.53, 60.2], [55.56, 59.6],
  [55.6, 58.8], [55.63, 59.3], [55.67, 59.0], [55.715, 59.5], [55.75, 59.8], [55.79, 59.6], [55.835, 60.1], [55.87, 60.4],
  [55.91, 60.2], [55.95, 60.6], [55.994, 60.6], [56.015, 59.8], [56.024, 55.0], [56.03, 50.0], [56.06, 49.8], [56.09, 50.1],
  [56.113, 49.9], [56.15, 50.2], [56.2, 50.4], [56.25, 50.6], [56.312, 51.0], [56.36, 51.0], [56.42, 51.4], [56.48, 51.6],
  [56.55, 52.2], [56.62, 52.3], [56.7, 52.4], [56.76, 52.6], [56.803, 52.4], [56.812, 45.0], [56.82, 39.5], [56.86, 39.2],
  [56.9, 39.5], [56.94, 39.4], [56.98, 39.6], [57.03, 39.8], [57.08, 39.9], [57.132, 40.2], [57.18, 40.0], [57.22, 39.6],
  [57.26, 40.4], [57.287, 41.1], [57.31, 40.5], [57.326, 37.0], [57.37, 36.8], [57.42, 36.4], [57.47, 36.2], [57.519, 35.7],
  [57.56, 36.0], [57.6, 35.8], [57.64, 36.9], [57.712, 37.2], [57.76, 37.0], [57.8, 37.4], [57.85, 38.0], [57.9, 39.2],
  [57.95, 39.6], [57.983, 40.0], [58.01, 38.5], [58.04, 37.0], [58.06, 36.4], [58.11, 36.2], [58.15, 35.8], [58.2, 35.9],
  [58.254, 35.7], [58.27, 37.5], [58.292, 38.5], [58.33, 38.2], [58.37, 37.2], [58.42, 37.0], [58.486, 36.8], [58.54, 36.6],
  [58.6, 36.9], [58.64, 37.4], [58.68, 37.2], [58.73, 37.6], [58.78, 37.1], [58.83, 36.6], [58.87, 36.2], [58.912, 35.7],
  [58.96, 36.4], [59.0, 37.0], [59.037, 37.9], [59.055, 41.0], [59.066, 48.7], [59.08, 50.0], [59.095, 50.8], [59.11, 53.5],
  [59.124, 60.6], [59.15, 60.0], [59.175, 59.2], [59.192, 58.4], [59.2, 62.0], [59.211, 66.0], [59.24, 65.5], [59.27, 65.2],
  [59.298, 64.9], [59.32, 65.3], [59.337, 66.0], [59.36, 65.4], [59.39, 64.8], [59.414, 63.8], [59.44, 63.2], [59.465, 63.8],
];

const eotvos: [number, number][] = [
  [54.0, 50.0], [54.015, 48.8], [54.03, 48.0], [54.04, 47.0], [54.048, 54.0], [54.06, 74.4], [54.075, 76.0], [54.1, 76.3],
  [54.123, 76.5], [54.15, 76.9], [54.183, 77.6], [54.21, 77.4], [54.235, 77.6], [54.247, 73.3], [54.259, 63.8], [54.28, 63.2],
  [54.302, 62.7], [54.318, 71.2], [54.332, 80.8], [54.35, 81.4], [54.362, 81.9], [54.382, 83.0], [54.392, 82.0], [54.402, 80.8],
  [54.416, 54.2], [54.432, 54.2], [54.446, 43.5], [54.462, 36.0], [54.478, 41.4], [54.491, 56.3], [54.505, 59.5], [54.521, 54.2],
  [54.535, 52.0], [54.55, 53.2], [54.561, 54.2], [54.571, 65.9], [54.591, 68.0], [54.611, 71.2], [54.625, 71.6], [54.641, 72.3],
  [54.655, 75.5], [54.67, 79.7], [54.685, 83.0], [54.7, 86.1], [54.72, 88.0], [54.74, 89.3], [54.77, 91.0], [54.8, 92.5],
  [54.83, 93.8], [54.86, 95.1], [54.89, 93.8], [54.92, 93.0], [54.95, 92.8], [54.98, 92.5], [55.0, 92.6], [55.02, 92.5],
  [55.033, 67.0], [55.055, 67.2], [55.079, 67.4], [55.1, 67.8], [55.118, 68.0], [55.14, 66.8], [55.158, 65.9], [55.18, 65.4],
  [55.198, 64.8], [55.22, 64.0], [55.238, 63.1], [55.26, 63.3], [55.287, 63.8], [55.3, 65.0], [55.317, 67.0], [55.335, 68.5],
  [55.347, 70.1], [55.367, 75.5], [55.387, 86.1], [55.41, 86.8], [55.437, 87.2], [55.47, 87.6], [55.496, 87.8], [55.525, 86.8],
  [55.556, 86.1], [55.585, 85.0], [55.616, 84.0], [55.645, 84.6], [55.676, 85.0], [55.715, 85.2], [55.755, 85.7], [55.795, 85.6],
  [55.835, 85.7], [55.875, 85.9], [55.914, 86.6], [55.955, 86.4], [55.994, 86.6], [56.01, 85.5], [56.018, 83.0], [56.03, 72.3],
  [56.054, 74.4], [56.08, 74.2], [56.113, 74.0], [56.125, 71.5], [56.133, 70.1], [56.165, 69.8], [56.193, 69.5], [56.21, 70.8],
  [56.223, 72.0], [56.24, 74.0], [56.253, 75.5], [56.3, 76.2], [56.352, 76.5], [56.4, 76.8], [56.45, 76.6], [56.511, 76.5],
  [56.552, 76.7], [56.6, 76.3], [56.649, 76.1], [56.678, 73.5], [56.705, 73.3], [56.736, 73.1], [56.755, 76.1], [56.78, 77.2],
  [56.803, 78.3], [56.813, 71.4], [56.823, 62.7], [56.861, 61.6], [56.9, 61.8], [56.939, 61.6], [57.0, 62.5], [57.055, 63.4],
  [57.09, 63.6], [57.123, 63.8], [57.142, 61.6], [57.19, 61.2], [57.229, 61.0], [57.27, 61.8], [57.306, 62.7], [57.335, 58.0],
  [57.38, 57.9], [57.422, 57.8], [57.47, 57.5], [57.519, 57.3], [57.56, 56.9], [57.597, 56.7], [57.65, 57.5], [57.7, 58.2],
  [57.741, 58.4], [57.8, 58.2], [57.86, 58.4], [57.886, 58.4], [57.925, 60.6], [57.96, 61.2], [57.983, 61.0], [58.0, 59.5],
  [58.022, 58.4], [58.06, 57.3], [58.099, 56.7], [58.15, 56.5], [58.2, 56.6], [58.254, 56.2], [58.273, 58.8], [58.3, 59.2],
  [58.341, 59.5], [58.36, 56.7], [58.42, 56.2], [58.486, 55.8], [58.53, 55.5], [58.583, 55.2], [58.63, 55.5], [58.68, 55.8],
  [58.72, 56.5], [58.757, 57.3], [58.8, 57.0], [58.854, 56.9], [58.89, 56.0], [58.912, 55.6], [58.95, 55.9], [58.989, 55.8],
  [59.015, 56.5], [59.037, 57.3], [59.05, 61.0], [59.066, 67.0], [59.085, 70.3], [59.114, 71.4], [59.125, 75.0], [59.134, 77.8],
  [59.16, 77.5], [59.192, 77.8], [59.2, 80.5], [59.211, 82.2], [59.24, 82.5], [59.26, 82.2], [59.28, 80.8], [59.298, 79.6],
  [59.33, 79.0], [59.36, 78.8], [59.395, 78.3], [59.43, 78.6], [59.45, 78.5], [59.463, 79.4],
];

// dashed reference positions shared by all panels
const MARKER_X = [56.32, 56.817];

// annotation arrows: from panel a into the a1 zoom window, and two pointers inside it
const ZOOM_ARROW_FROM = { x: 55.337, y: 32.5 };
const ZOOM_ARROW_TO = { x: 55.085, y: 8.1 };
const INSET_ARROWS = [
  { from: { x: 56.62, y: 17.5 }, to: { x: 56.773, y: 12.7 } },
  { from: { x: 56.174, y: -6.5 }, to: { x: 56.287, y: -1.77 } },
];

// ---------- colours ----------
const C_GREEN = '#1fe31f';
const C_BLUE = '#1515dd';
const C_MAGENTA = '#ff1aff';
const C_BATHY = '#1a78c2';
const C_BATHY_FILL = 'rgba(0, 114, 189, 0.055)';
const C_PURPLE = '#9b4fb2';
const C_BLACK = '#111111';
const C_MARKER = '#ababab';

const pairs = (arr: [number, number][]) => arr.map(([x, y]) => ({ x, y }));
const sampled = (start: number, step: number, vals: number[]) =>
  vals.map((y, i) => ({ x: +(start + i * step).toFixed(4), y }));

function drawArrow(ctx: CanvasRenderingContext2D, x0: number, y0: number, x1: number, y1: number) {
  const head = 11;
  const half = 4;
  const ang = Math.atan2(y1 - y0, x1 - x0);
  const c = Math.cos(ang);
  const s = Math.sin(ang);
  ctx.beginPath();
  ctx.moveTo(x0, y0);
  ctx.lineTo(x1 - c * head * 0.8, y1 - s * head * 0.8);
  ctx.stroke();
  ctx.beginPath();
  ctx.moveTo(x1, y1);
  ctx.lineTo(x1 - head * c + half * s, y1 - head * s - half * c);
  ctx.lineTo(x1 - head * c - half * s, y1 - head * s + half * c);
  ctx.closePath();
  ctx.fill();
}

type Spec = {
  axisW: number;
  padTop: number;
  padBottom: number;
  padRight: number;
  xAxisH: number;
  xMin: number;
  xMax: number;
  yMin: number;
  yMax: number;
  xTicks: number[];
  yTicks: number[];
  xFmt?: (v: number) => string;
  yFmt?: (v: number) => string;
  fontSize: number;
  tickLen: number;
  frameXTicks: number[];
  datasets: any[];
  background?: string;
  decorate?: (chart: any) => void;
};

function makeChart(canvas: HTMLCanvasElement, spec: Spec): Chart {
  const font = { family: FONT, size: spec.fontSize };
  const frame = {
    id: 'frame',
    beforeDraw(chart: any) {
      if (!spec.background) return;
      const { ctx, chartArea: a } = chart;
      ctx.save();
      ctx.fillStyle = spec.background;
      ctx.fillRect(a.left, a.top, a.right - a.left, a.bottom - a.top);
      ctx.restore();
    },
    afterDraw(chart: any) {
      const { ctx, chartArea: a, scales } = chart;
      ctx.save();
      ctx.strokeStyle = INK;
      ctx.lineWidth = 1;
      const L = Math.round(a.left) + 0.5;
      const R = Math.round(a.right) - 0.5;
      const T = Math.round(a.top) + 0.5;
      const B = Math.round(a.bottom) - 0.5;
      ctx.strokeRect(L, T, R - L, B - T);
      ctx.beginPath();
      for (const v of spec.yTicks) {
        const y = Math.round(scales.y.getPixelForValue(v)) + 0.5;
        ctx.moveTo(L, y);
        ctx.lineTo(L + spec.tickLen, y);
        ctx.moveTo(R, y);
        ctx.lineTo(R - spec.tickLen, y);
      }
      for (const v of spec.frameXTicks) {
        const x = Math.round(scales.x.getPixelForValue(v)) + 0.5;
        ctx.moveTo(x, T);
        ctx.lineTo(x, T + spec.tickLen);
        ctx.moveTo(x, B);
        ctx.lineTo(x, B - spec.tickLen);
      }
      ctx.stroke();
      ctx.restore();
      if (spec.decorate) {
        ctx.save();
        spec.decorate(chart);
        ctx.restore();
      }
    },
  };
  return new Chart(canvas, {
    type: 'line',
    data: { datasets: spec.datasets },
    plugins: [frame],
    options: {
      animation: false,
      responsive: false,
      devicePixelRatio: 1,
      events: [],
      layout: { padding: { top: spec.padTop, bottom: spec.padBottom, left: 0, right: spec.padRight } },
      plugins: { legend: { display: false }, tooltip: { enabled: false } },
      elements: { point: { radius: 0 }, line: { tension: 0, borderJoinStyle: 'round' } },
      scales: {
        x: {
          type: 'linear',
          min: spec.xMin,
          max: spec.xMax,
          display: spec.xAxisH > 0,
          afterFit: (s: any) => {
            s.height = spec.xAxisH;
          },
          afterBuildTicks: (s: any) => {
            s.ticks = spec.xTicks.map((value) => ({ value }));
          },
          grid: { display: false, drawTicks: false },
          border: { display: false },
          ticks: {
            autoSkip: false,
            maxRotation: 0,
            padding: 7,
            color: INK,
            font,
            callback: (v: any) => (spec.xFmt ? spec.xFmt(Number(v)) : String(v)),
          },
        },
        y: {
          type: 'linear',
          min: spec.yMin,
          max: spec.yMax,
          afterFit: (s: any) => {
            s.width = spec.axisW;
          },
          afterBuildTicks: (s: any) => {
            s.ticks = spec.yTicks.map((value) => ({ value }));
          },
          grid: { display: false, drawTicks: false },
          border: { display: false },
          ticks: {
            autoSkip: false,
            padding: 5,
            color: INK,
            font,
            callback: (v: any) => (spec.yFmt ? spec.yFmt(Number(v)) : String(v)),
          },
        },
      },
    } as any,
  });
}

function gravityDatasets() {
  return [
    { data: pairs(eigen6c4), borderColor: C_MAGENTA, borderWidth: 2.6, order: 0 },
    { data: pairs(chekan), borderColor: C_BLUE, borderWidth: 1.5, order: 1 },
    { data: pairs(chekanGnss), borderColor: C_GREEN, borderWidth: 3.2, order: 2 },
  ];
}

type Box = { top: number; bottom: number };
const canvasTop = (p: Box) => p.top - PAD;
const canvasH = (p: Box, xAxis: boolean) => p.bottom - p.top + PAD + (xAxis ? X_AXIS_H : PAD);

function mainSpec(p: Box, yMin: number, yMax: number, yTicks: number[], datasets: any[], xAxis = false): Spec {
  return {
    axisW: PLOT_LEFT,
    padTop: PAD,
    padBottom: xAxis ? 0 : PAD,
    padRight: PAGE_W - PLOT_RIGHT,
    xAxisH: xAxis ? X_AXIS_H : 0,
    xMin: X_MIN,
    xMax: X_MAX,
    yMin,
    yMax,
    xTicks: X_TICKS,
    yTicks,
    fontSize: 16,
    tickLen: 12,
    frameXTicks: xAxis ? X_TICKS.slice(1) : [],
    datasets,
  };
}

function Txt(props: { x: number; y: number; size: number; rotate?: boolean; children: React.ReactNode }) {
  return (
    <div
      style={{
        position: 'absolute',
        left: props.x,
        top: props.y,
        transform: `translate(-50%, -50%)${props.rotate ? ' rotate(-90deg)' : ''}`,
        fontSize: props.size,
        lineHeight: 1,
        whiteSpace: 'nowrap',
        color: '#000',
        fontFamily: FONT,
      }}
    >
      {props.children}
    </div>
  );
}

type LegendRow = { label: string; color: string; width: number; patch?: boolean };
function Legend(props: {
  left: number;
  top: number;
  width: number;
  height: number;
  rows: LegendRow[];
  rowY: number[];
  sample: [number, number];
  textX: number;
}) {
  const { left, top, width, height, rows, rowY, sample, textX } = props;
  return (
    <div
      style={{
        position: 'absolute',
        left,
        top,
        width,
        height,
        boxSizing: 'border-box',
        border: `1px solid ${INK}`,
        background: '#fff',
        fontFamily: FONT,
      }}
    >
      {rows.map((r, i) => (
        <React.Fragment key={r.label}>
          {r.patch ? (
            <div
              style={{
                position: 'absolute',
                left: sample[0],
                top: rowY[i] - 7,
                width: sample[1] - sample[0],
                height: 15,
                boxSizing: 'border-box',
                border: `1.5px solid ${r.color}`,
                background: '#f1f6fc',
              }}
            />
          ) : (
            <div
              style={{
                position: 'absolute',
                left: sample[0],
                top: rowY[i] - r.width / 2,
                width: sample[1] - sample[0],
                height: r.width,
                background: r.color,
              }}
            />
          )}
          <div
            style={{
              position: 'absolute',
              left: textX,
              top: rowY[i],
              transform: 'translateY(-50%)',
              fontSize: 14,
              lineHeight: 1,
              whiteSpace: 'nowrap',
              color: '#000',
            }}
          >
            {r.label}
          </div>
        </React.Fragment>
      ))}
    </div>
  );
}

export default function App() {
  const aRef = useRef<HTMLCanvasElement | null>(null);
  const bRef = useRef<HTMLCanvasElement | null>(null);
  const cRef = useRef<HTMLCanvasElement | null>(null);
  const dRef = useRef<HTMLCanvasElement | null>(null);
  const eRef = useRef<HTMLCanvasElement | null>(null);
  const insetRef = useRef<HTMLCanvasElement | null>(null);
  const overlayRef = useRef<HTMLCanvasElement | null>(null);

  useEffect(() => {
    const charts: Chart[] = [];
    const bathyEnd = bathymetry[bathymetry.length - 1];

    const chartA = makeChart(
      aRef.current!,
      mainSpec(PANEL_A, -140, 40, GRAVITY_TICKS, [
        ...gravityDatasets(),
        {
          data: pairs(bathymetry),
          borderColor: C_BATHY,
          borderWidth: 1.1,
          backgroundColor: C_BATHY_FILL,
          fill: { value: 0 },
          order: 3,
        },
        {
          data: [
            { x: X_MIN, y: 0 },
            { x: bathyEnd[0], y: 0 },
          ],
          borderColor: '#4f9bd6',
          borderWidth: 2,
          order: 4,
        },
        {
          data: [
            { x: bathyEnd[0], y: 0 },
            { x: bathyEnd[0], y: bathyEnd[1] },
          ],
          borderColor: C_BATHY,
          borderWidth: 1,
          order: 4,
        },
      ])
    );
    charts.push(chartA);

    charts.push(
      makeChart(
        bRef.current!,
        mainSpec(PANEL_B, -5, 5, GNSS_TICKS, [
          { data: sampled(A_GNSS_START, A_GNSS_STEP, aGnss), borderColor: C_BLACK, borderWidth: 1.1 },
        ])
      )
    );
    charts.push(
      makeChart(cRef.current!, {
        ...mainSpec(PANEL_C, -0.05, 0.05, HAC_TICKS, [
          { data: sampled(HAC_START, HAC_STEP, hac), borderColor: C_BLACK, borderWidth: 1.1 },
        ]),
        yFmt: (v) => (v === 0 ? '0' : v.toFixed(2)),
      })
    );
    charts.push(
      makeChart(
        dRef.current!,
        mainSpec(PANEL_D, 19.08, 24, SPEED_TICKS, [
          { data: sampled(SPEED_START, SPEED_STEP, speed), borderColor: C_BLACK, borderWidth: 1.1 },
        ])
      )
    );
    charts.push(
      makeChart(
        eRef.current!,
        mainSpec(
          PANEL_E,
          20,
          100,
          HEADING_TICKS,
          [
            { data: pairs(heading), borderColor: C_BLACK, borderWidth: 1.1, order: 0 },
            { data: pairs(eotvos), borderColor: C_PURPLE, borderWidth: 1.8, order: 1 },
          ],
          true
        )
      )
    );

    const inset = makeChart(insetRef.current!, {
      axisW: INSET_PLOT.left - INSET_CANVAS.left,
      padTop: INSET_PLOT.top - INSET_CANVAS.top,
      padBottom: 0,
      padRight: INSET_CANVAS.left + INSET_CANVAS.width - INSET_PLOT.right,
      xAxisH: INSET_CANVAS.top + INSET_CANVAS.height - INSET_PLOT.bottom,
      xMin: 55,
      xMax: 57,
      yMin: -11.8,
      yMax: 30,
      xTicks: INSET_X_TICKS,
      yTicks: INSET_Y_TICKS,
      xFmt: (v) => v.toFixed(1).replace(/\.0$/, ''),
      fontSize: 11.5,
      tickLen: 5,
      frameXTicks: INSET_X_TICKS,
      datasets: gravityDatasets(),
      background: '#ffffff',
      decorate: (chart: any) => {
        const { ctx, scales } = chart;
        ctx.strokeStyle = C_BLACK;
        ctx.fillStyle = C_BLACK;
        ctx.lineWidth = 1.1;
        for (const a of INSET_ARROWS) {
          drawArrow(
            ctx,
            scales.x.getPixelForValue(a.from.x),
            scales.y.getPixelForValue(a.from.y),
            scales.x.getPixelForValue(a.to.x),
            scales.y.getPixelForValue(a.to.y)
          );
        }
      },
    });
    charts.push(inset);

    const aTop = canvasTop(PANEL_A);
    const zoomArrow = {
      id: 'zoomArrow',
      afterDraw(chart: any) {
        const ctx = chart.ctx as CanvasRenderingContext2D;
        const x0 = chartA.scales.x.getPixelForValue(ZOOM_ARROW_FROM.x);
        const y0 = aTop + chartA.scales.y.getPixelForValue(ZOOM_ARROW_FROM.y);
        const x1 = INSET_CANVAS.left + inset.scales.x.getPixelForValue(ZOOM_ARROW_TO.x);
        const y1 = INSET_CANVAS.top + inset.scales.y.getPixelForValue(ZOOM_ARROW_TO.y);
        ctx.save();
        ctx.strokeStyle = C_BLACK;
        ctx.fillStyle = C_BLACK;
        ctx.lineWidth = 1.1;
        drawArrow(ctx, x0, y0, x1, y1);
        ctx.restore();
      },
    };
    charts.push(
      new Chart(overlayRef.current!, {
        type: 'line',
        data: {
          datasets: MARKER_X.map((x) => ({
            data: [
              { x, y: 0 },
              { x, y: 1 },
            ],
            borderColor: C_MARKER,
            borderWidth: 2,
            borderDash: [9, 5],
          })),
        },
        plugins: [zoomArrow],
        options: {
          animation: false,
          responsive: false,
          devicePixelRatio: 1,
          events: [],
          layout: {
            padding: {
              top: MARKER_SPAN.top,
              bottom: PAGE_H - MARKER_SPAN.bottom,
              left: PLOT_LEFT,
              right: PAGE_W - PLOT_RIGHT,
            },
          },
          plugins: { legend: { display: false }, tooltip: { enabled: false } },
          elements: { point: { radius: 0 } },
          scales: {
            x: { type: 'linear', min: X_MIN, max: X_MAX, display: false },
            y: { type: 'linear', min: 0, max: 1, display: false },
          },
        } as any,
      })
    );

    return () => charts.forEach((c) => c.destroy());
  }, []);

  const abs = (top: number, left = 0): React.CSSProperties => ({ position: 'absolute', left, top, pointerEvents: 'none' });

  return (
    <div
      style={{
        position: 'absolute',
        left: 0,
        top: 0,
        width: PAGE_W,
        height: PAGE_H,
        overflow: 'hidden',
        background: '#fff',
        fontFamily: FONT,
      }}
    >
      <canvas ref={aRef} width={PAGE_W} height={canvasH(PANEL_A, false)} style={abs(canvasTop(PANEL_A))} />
      <canvas ref={bRef} width={PAGE_W} height={canvasH(PANEL_B, false)} style={abs(canvasTop(PANEL_B))} />
      <canvas ref={cRef} width={PAGE_W} height={canvasH(PANEL_C, false)} style={abs(canvasTop(PANEL_C))} />
      <canvas ref={dRef} width={PAGE_W} height={canvasH(PANEL_D, false)} style={abs(canvasTop(PANEL_D))} />
      <canvas ref={eRef} width={PAGE_W} height={canvasH(PANEL_E, true)} style={abs(canvasTop(PANEL_E))} />
      <canvas
        ref={insetRef}
        width={INSET_CANVAS.width}
        height={INSET_CANVAS.height}
        style={abs(INSET_CANVAS.top, INSET_CANVAS.left)}
      />

      <Legend
        left={113}
        top={552}
        width={176}
        height={80}
        rows={[
          { label: 'Bathymetry', color: C_BATHY, width: 1, patch: true },
          { label: 'Chekan+ a_GNSS', color: C_GREEN, width: 3 },
          { label: 'Chekan', color: C_BLUE, width: 1.5 },
          { label: 'Eigen-6C4', color: C_MAGENTA, width: 3 },
        ]}
        rowY={[12, 31, 50, 69]}
        sample={[8, 44]}
        textX={48}
      />
      <Legend
        left={113}
        top={682}
        width={115}
        height={25}
        rows={[{ label: 'a_GNSS', color: C_BLACK, width: 1 }]}
        rowY={[12]}
        sample={[5, 45]}
        textX={48}
      />
      <Legend
        left={108}
        top={926}
        width={86}
        height={27}
        rows={[{ label: 'HAC', color: C_BLACK, width: 1 }]}
        rowY={[13]}
        sample={[7, 42]}
        textX={46}
      />
      <Legend
        left={108}
        top={995}
        width={99}
        height={25}
        rows={[{ label: 'speed', color: C_BLACK, width: 1 }]}
        rowY={[12]}
        sample={[6, 44]}
        textX={48}
      />
      <Legend
        left={997}
        top={1137}
        width={158}
        height={48}
        rows={[
          { label: 'heading angle', color: C_BLACK, width: 1 },
          { label: 'eötvös', color: C_PURPLE, width: 2 },
        ]}
        rowY={[14, 35]}
        sample={[12, 47]}
        textX={52}
      />

      <Txt x={16} y={358} size={19}>a)</Txt>
      <Txt x={13} y={728} size={19}>b)</Txt>
      <Txt x={13} y={880} size={19}>c)</Txt>
      <Txt x={13} y={1035} size={19}>d)</Txt>
      <Txt x={14} y={1182} size={19}>e)</Txt>
      <Txt x={674} y={131} size={19}>a1)</Txt>
      <Txt x={42} y={645} size={19} rotate>mGal</Txt>
      <Txt x={49} y={1035} size={19} rotate>knot</Txt>
      <Txt x={52} y={1192} size={19} rotate>degree and mGal</Txt>

      <canvas ref={overlayRef} width={PAGE_W} height={PAGE_H} style={abs(0)} />
    </div>
  );
}
